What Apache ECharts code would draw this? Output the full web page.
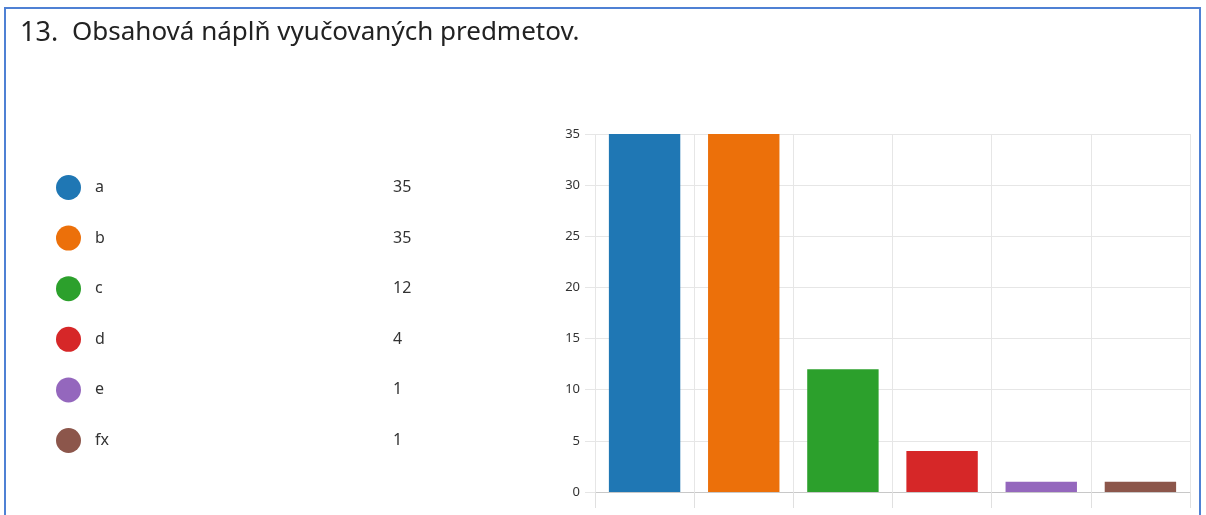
<!DOCTYPE html>
<html>
<head>
<meta charset="utf-8">
<script src="https://cdn.jsdelivr.net/npm/echarts@6/dist/echarts.min.js"></script>
<style>
  html, body { margin: 0; padding: 0; background: #fff; }
  #chart { width: 1206px; height: 515px; }
</style>
</head>
<body>
<div id="chart"></div>
<script>
const categories = ['a', 'b', 'c', 'd', 'e', 'fx'];
const values = [35, 35, 12, 4, 1, 1];
const colors = ['#1f77b4', '#ec700a', '#2ca02c', '#d62728', '#9467bd', '#8c564b'];
const yTicks = [0, 5, 10, 15, 20, 25, 30, 35];

const chart = echarts.init(document.getElementById('chart'));

// one series per category so the legend lists them; they share one slot
const series = categories.map((name, i) => ({
  name: name,
  type: 'bar',
  barGap: '-100%',
  barCategoryGap: '28%',
  itemStyle: { color: colors[i] },
  data: categories.map((c, j) => (j === i ? values[i] : '-'))
}));

const option = {
  animation: false,
  color: colors,
  textStyle: { fontFamily: 'Noto Sans' },
  graphic: [
    {
      type: 'rect',
      shape: { x: 5, y: 8, width: 1195, height: 520 },
      style: { fill: 'none', stroke: '#4f81d4', lineWidth: 2 }
    },
    {
      type: 'text',
      left: 20,
      top: 20,
      style: { text: '13.', font: '27px "Noto Sans"', fill: '#222' }
    },
    {
      type: 'text',
      left: 72,
      top: 20,
      style: { text: 'Obsahová náplň vyučovaných predmetov.', font: '26px "Noto Sans"', fill: '#222' }
    }
  ],
  legend: {
    orient: 'vertical',
    left: 56,
    top: 175,
    padding: 0,
    icon: 'circle',
    itemWidth: 25,
    itemHeight: 25,
    itemGap: 25.6,
    data: categories,
    formatter: name => '{n|' + name + '}{v|' + values[categories.indexOf(name)] + '}',
    textStyle: {
      rich: {
        n: { width: 298, fontSize: 16, color: '#333', padding: [0, 0, 0, 9] },
        v: { fontSize: 16, color: '#333' }
      }
    },
    selectedMode: false
  },
  grid: { left: 595, right: 16, top: 134, bottom: 23 },
  xAxis: {
    type: 'category',
    data: categories,
    axisLine: { lineStyle: { color: '#c8c8c8' } },
    axisTick: { show: true, length: 16, lineStyle: { color: '#e0e0e0' } },
    axisLabel: { show: false },
    splitLine: { show: true, lineStyle: { color: '#e6e6e6' } }
  },
  yAxis: {
    type: 'value',
    min: yTicks[0],
    max: yTicks[yTicks.length - 1],
    interval: 5,
    axisLine: { show: false },
    axisTick: { show: true, length: 10, lineStyle: { color: '#e6e6e6' } },
    axisLabel: { color: '#333', fontSize: 13, margin: 15 },
    splitLine: { lineStyle: { color: '#e6e6e6' } }
  },
  series: series
};

chart.setOption(option);
</script>
</body>
</html>
